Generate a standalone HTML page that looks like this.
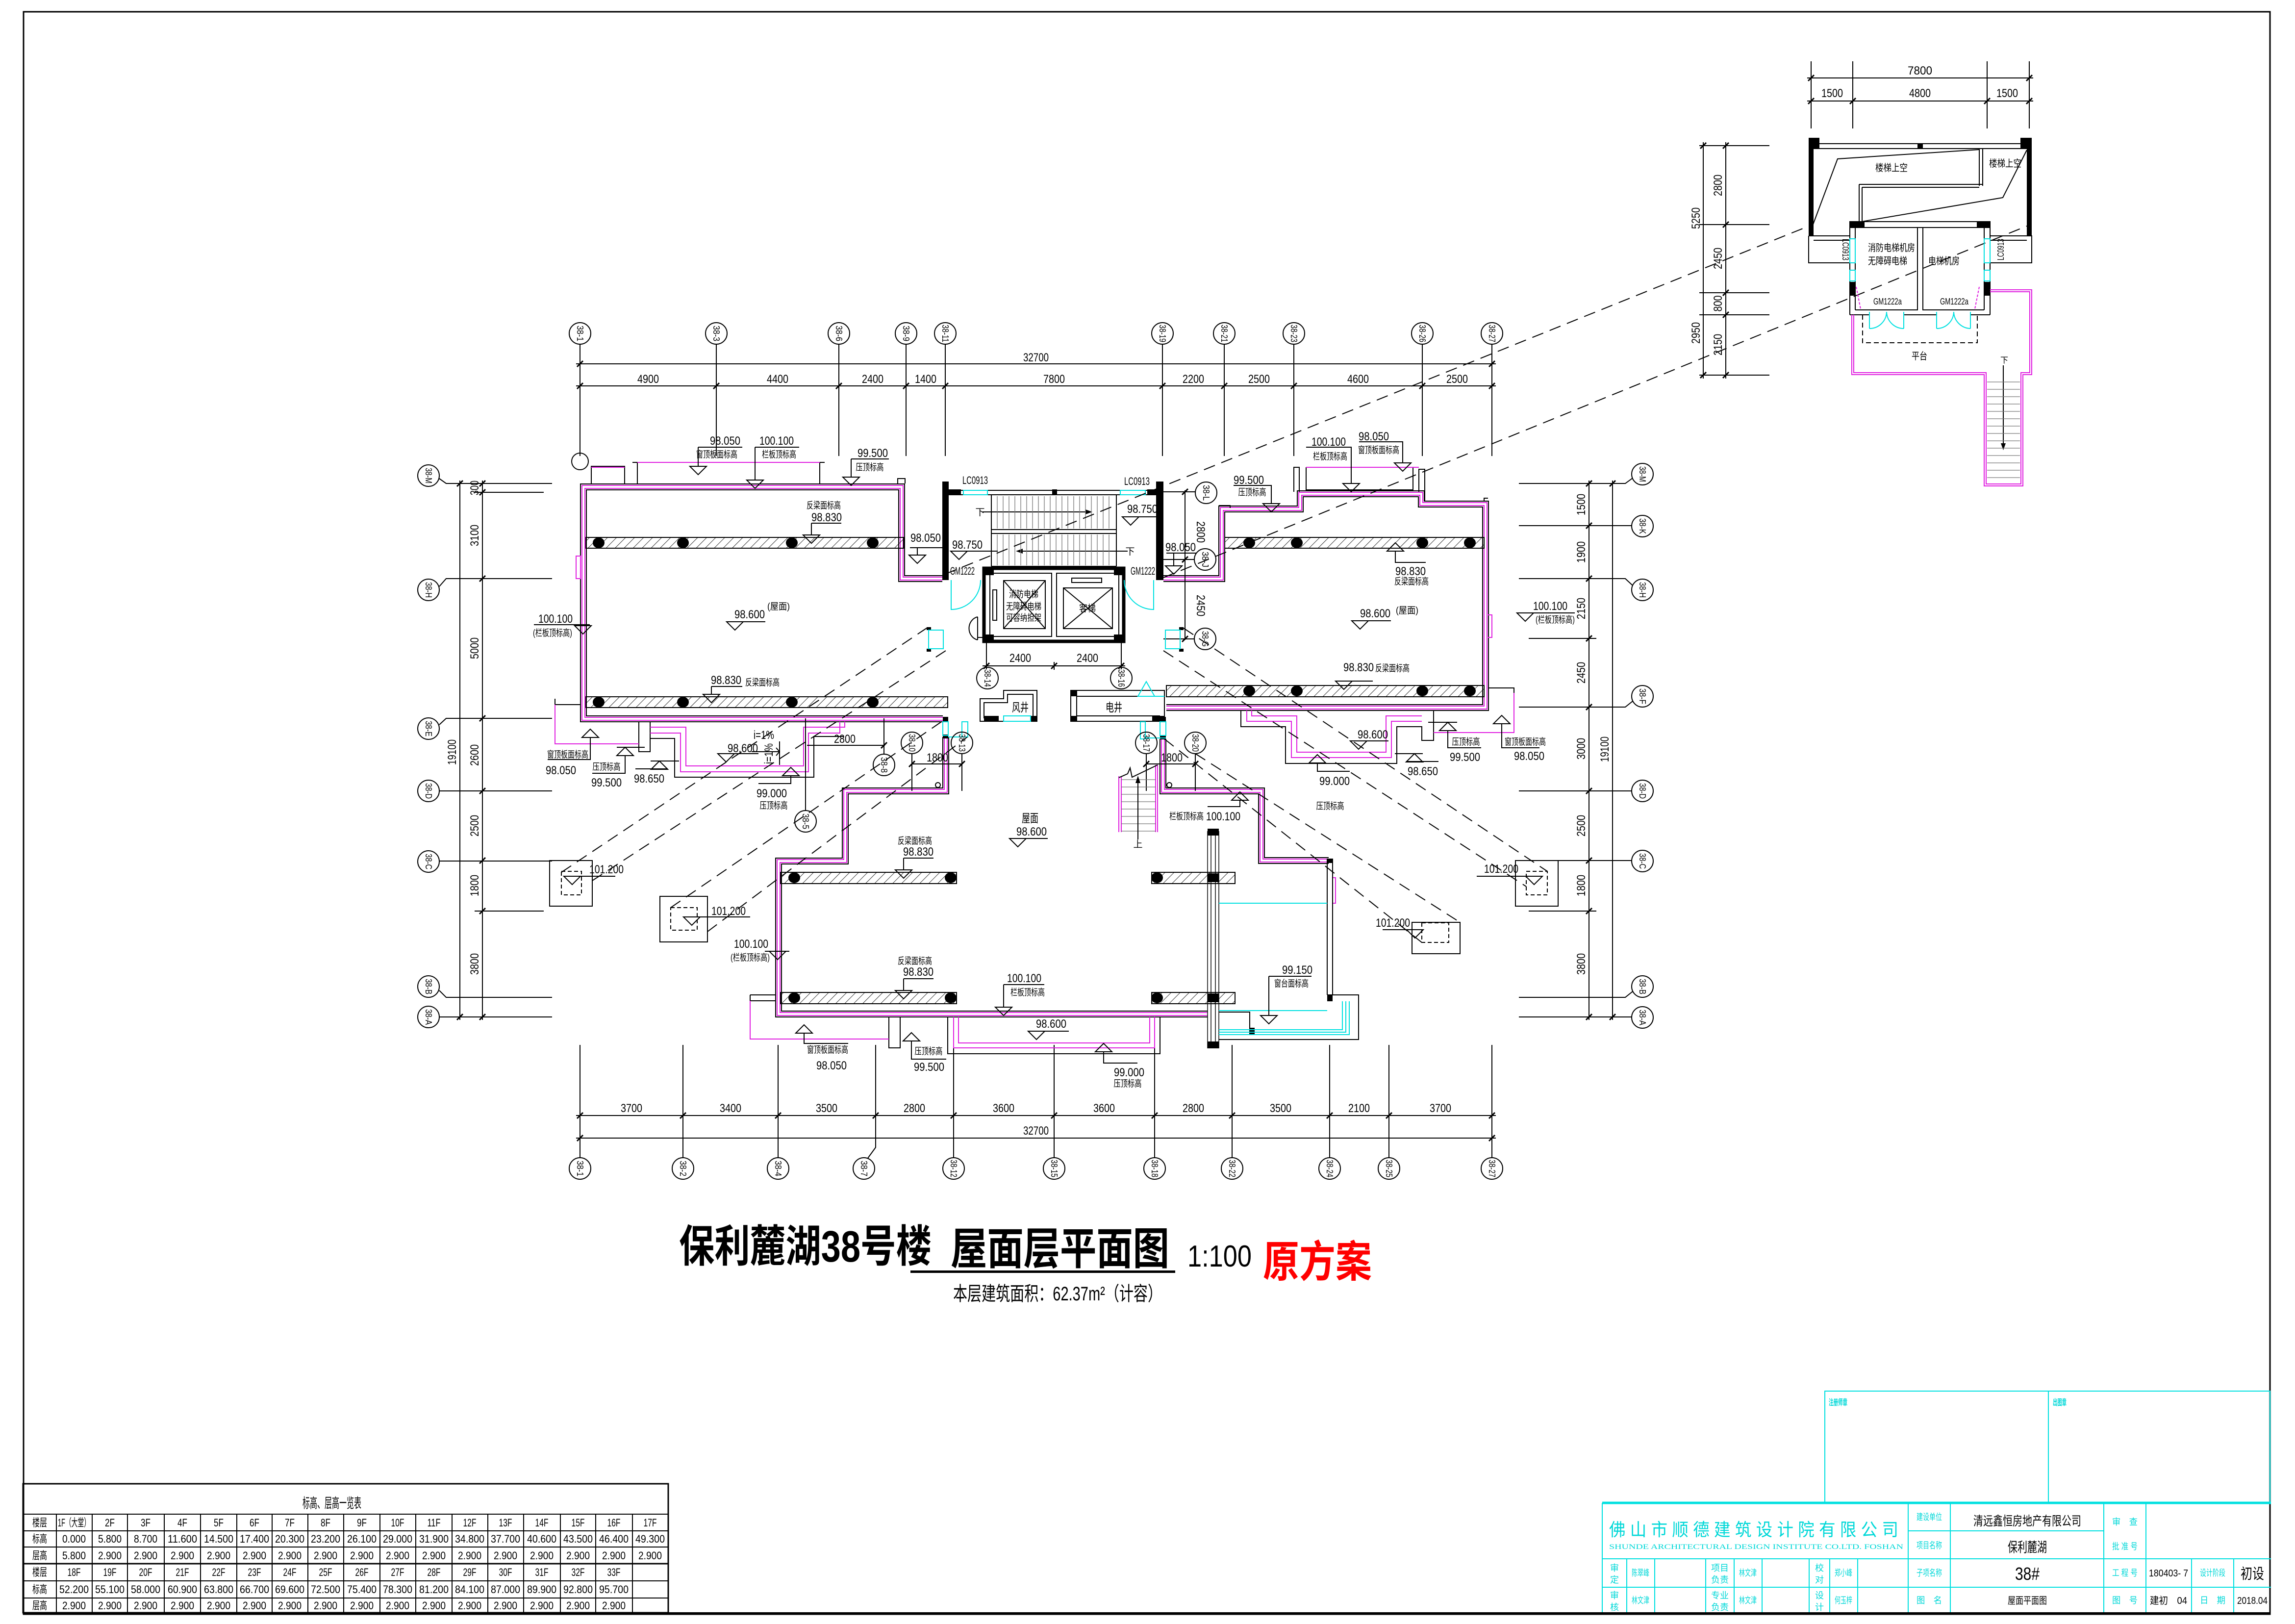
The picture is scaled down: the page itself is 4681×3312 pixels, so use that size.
<!DOCTYPE html>
<html><head><meta charset="utf-8"><style>
html,body{margin:0;padding:0;background:#fff}
svg{display:block}
.k{stroke:#000;stroke-width:2;fill:none}
.k1{stroke:#000;stroke-width:1.4;fill:none}
.g{stroke:#777;stroke-width:1.3;fill:none}
.m{stroke:#e020e0;stroke-width:2;fill:none}
.c{stroke:#00e0e0;stroke-width:2;fill:none}
.d{stroke:#000;stroke-width:2;fill:none;stroke-dasharray:24 14}
.f{fill:#000;stroke:none}
.t{font-family:"Liberation Sans","Noto Sans CJK SC",sans-serif;fill:#000}
.n{font-size:24px}.s{font-size:19px}.a{font-size:18px}.q{font-size:22px}
.cy{fill:#00d8d8}
</style></head><body>
<svg xmlns="http://www.w3.org/2000/svg" width="4681" height="3312" viewBox="0 0 4681 3312">
<defs>
<pattern id="h" width="13" height="13" patternUnits="userSpaceOnUse" patternTransform="rotate(45)"><line x1="0" y1="0" x2="0" y2="13" stroke="#000" stroke-width="1.6"/></pattern>
<path id="w1" d="M1922,1180 H1839 V993 H1190 V1466 H1923"/>
<path id="w2" d="M2373,1180 H2492 V1038 H2652 V1007 H2899 V1028 H3030 V1443 H2379"/>
<path id="w3" d="M1929,1503 V1613 H1724 V1756 H1588 V2068 H2463"/>
<path id="w4" d="M2372,1507 V1613 H2573 V1755 H2710"/>
</defs>
<rect width="4681" height="3312" fill="#fff"/>
<rect x="48" y="24" width="4582" height="3268" fill="none" stroke="#000" stroke-width="3"/>

<g fill="none">
<use href="#w1" stroke="#000" stroke-width="14"/><use href="#w1" stroke="#fff" stroke-width="10"/><use href="#w1" stroke="#e020e0" stroke-width="8"/><use href="#w1" stroke="#fff" stroke-width="4"/>
<use href="#w2" stroke="#000" stroke-width="14"/><use href="#w2" stroke="#fff" stroke-width="10"/><use href="#w2" stroke="#e020e0" stroke-width="8"/><use href="#w2" stroke="#fff" stroke-width="4"/>
<use href="#w3" stroke="#000" stroke-width="14"/><use href="#w3" stroke="#fff" stroke-width="10"/><use href="#w3" stroke="#e020e0" stroke-width="8"/><use href="#w3" stroke="#fff" stroke-width="4"/>
<use href="#w4" stroke="#000" stroke-width="14"/><use href="#w4" stroke="#fff" stroke-width="10"/><use href="#w4" stroke="#e020e0" stroke-width="8"/><use href="#w4" stroke="#fff" stroke-width="4"/>
</g>

<!-- axes top -->
<g class="k">
<path d="M1183,702V930M1461,702V930M1711,702V930M1848,702V930M1928,702V930M2371,702V930M2497,702V930M2639,702V930M2901,702V930M3043,702V930"/>
<path d="M1175,742H3051M1175,787H3051"/>
<path d="M1177,748l12,-12M3037,748l12,-12M1177,793l12,-12M1455,793l12,-12M1705,793l12,-12M1842,793l12,-12M1922,793l12,-12M2365,793l12,-12M2491,793l12,-12M2633,793l12,-12M2895,793l12,-12M3037,793l12,-12" stroke-width="3"/>
<circle cx="1183" cy="680" r="22"/><circle cx="1461" cy="680" r="22"/><circle cx="1711" cy="680" r="22"/><circle cx="1848" cy="680" r="22"/><circle cx="1928" cy="680" r="22"/><circle cx="2371" cy="680" r="22"/><circle cx="2497" cy="680" r="22"/><circle cx="2639" cy="680" r="22"/><circle cx="2901" cy="680" r="22"/><circle cx="3043" cy="680" r="22"/>
</g>
<g class="t a" text-anchor="middle">
<text transform="translate(1183,680) rotate(90)" y="6" textLength="32" lengthAdjust="spacingAndGlyphs">38-1</text>
<text transform="translate(1461,680) rotate(90)" y="6" textLength="32" lengthAdjust="spacingAndGlyphs">38-3</text>
<text transform="translate(1711,680) rotate(90)" y="6" textLength="32" lengthAdjust="spacingAndGlyphs">38-6</text>
<text transform="translate(1848,680) rotate(90)" y="6" textLength="32" lengthAdjust="spacingAndGlyphs">38-9</text>
<text transform="translate(1928,680) rotate(90)" y="6" textLength="36" lengthAdjust="spacingAndGlyphs">38-11</text>
<text transform="translate(2371,680) rotate(90)" y="6" textLength="36" lengthAdjust="spacingAndGlyphs">38-19</text>
<text transform="translate(2497,680) rotate(90)" y="6" textLength="36" lengthAdjust="spacingAndGlyphs">38-21</text>
<text transform="translate(2639,680) rotate(90)" y="6" textLength="36" lengthAdjust="spacingAndGlyphs">38-23</text>
<text transform="translate(2901,680) rotate(90)" y="6" textLength="36" lengthAdjust="spacingAndGlyphs">38-26</text>
<text transform="translate(3043,680) rotate(90)" y="6" textLength="36" lengthAdjust="spacingAndGlyphs">38-27</text>
</g>
<g class="t n" text-anchor="middle">
<text x="2113" y="737" textLength="52" lengthAdjust="spacingAndGlyphs">32700</text>
<text x="1322" y="781" textLength="44" lengthAdjust="spacingAndGlyphs">4900</text>
<text x="1586" y="781" textLength="44" lengthAdjust="spacingAndGlyphs">4400</text>
<text x="1780" y="781" textLength="44" lengthAdjust="spacingAndGlyphs">2400</text>
<text x="1888" y="781" textLength="44" lengthAdjust="spacingAndGlyphs">1400</text>
<text x="2150" y="781" textLength="44" lengthAdjust="spacingAndGlyphs">7800</text>
<text x="2434" y="781" textLength="44" lengthAdjust="spacingAndGlyphs">2200</text>
<text x="2568" y="781" textLength="44" lengthAdjust="spacingAndGlyphs">2500</text>
<text x="2770" y="781" textLength="44" lengthAdjust="spacingAndGlyphs">4600</text>
<text x="2972" y="781" textLength="44" lengthAdjust="spacingAndGlyphs">2500</text>
</g>

<!-- axes bottom -->
<g class="k">
<path d="M1183,2131V2361M1393,2131V2361M1587,2131V2361M1786,2131V2340L1770,2362M1945,2131V2361M2150,2131V2361M2355,2131V2361M2513,2131V2361M2712,2131V2361M2833,2131V2361M3043,2131V2361"/>
<path d="M1175,2275H3051M1175,2321H3051"/>
<path d="M1177,2281l12,-12M1387,2281l12,-12M1581,2281l12,-12M1780,2281l12,-12M1939,2281l12,-12M2144,2281l12,-12M2349,2281l12,-12M2507,2281l12,-12M2706,2281l12,-12M2827,2281l12,-12M3037,2281l12,-12M1177,2327l12,-12M3037,2327l12,-12" stroke-width="3"/>
<circle cx="1183" cy="2383" r="22"/><circle cx="1393" cy="2383" r="22"/><circle cx="1587" cy="2383" r="22"/><circle cx="1762" cy="2383" r="22"/><circle cx="1945" cy="2383" r="22"/><circle cx="2150" cy="2383" r="22"/><circle cx="2355" cy="2383" r="22"/><circle cx="2513" cy="2383" r="22"/><circle cx="2712" cy="2383" r="22"/><circle cx="2833" cy="2383" r="22"/><circle cx="3043" cy="2383" r="22"/>
</g>
<g class="t a" text-anchor="middle">
<text transform="translate(1183,2383) rotate(90)" y="6" textLength="32" lengthAdjust="spacingAndGlyphs">38-1</text>
<text transform="translate(1393,2383) rotate(90)" y="6" textLength="32" lengthAdjust="spacingAndGlyphs">38-2</text>
<text transform="translate(1587,2383) rotate(90)" y="6" textLength="32" lengthAdjust="spacingAndGlyphs">38-4</text>
<text transform="translate(1762,2383) rotate(90)" y="6" textLength="32" lengthAdjust="spacingAndGlyphs">38-7</text>
<text transform="translate(1945,2383) rotate(90)" y="6" textLength="36" lengthAdjust="spacingAndGlyphs">38-12</text>
<text transform="translate(2150,2383) rotate(90)" y="6" textLength="36" lengthAdjust="spacingAndGlyphs">38-15</text>
<text transform="translate(2355,2383) rotate(90)" y="6" textLength="36" lengthAdjust="spacingAndGlyphs">38-18</text>
<text transform="translate(2513,2383) rotate(90)" y="6" textLength="36" lengthAdjust="spacingAndGlyphs">38-22</text>
<text transform="translate(2712,2383) rotate(90)" y="6" textLength="36" lengthAdjust="spacingAndGlyphs">38-24</text>
<text transform="translate(2833,2383) rotate(90)" y="6" textLength="36" lengthAdjust="spacingAndGlyphs">38-25</text>
<text transform="translate(3043,2383) rotate(90)" y="6" textLength="36" lengthAdjust="spacingAndGlyphs">38-27</text>
</g>
<g class="t n" text-anchor="middle">
<text x="1288" y="2268" textLength="44" lengthAdjust="spacingAndGlyphs">3700</text>
<text x="1490" y="2268" textLength="44" lengthAdjust="spacingAndGlyphs">3400</text>
<text x="1686" y="2268" textLength="44" lengthAdjust="spacingAndGlyphs">3500</text>
<text x="1865" y="2268" textLength="44" lengthAdjust="spacingAndGlyphs">2800</text>
<text x="2047" y="2268" textLength="44" lengthAdjust="spacingAndGlyphs">3600</text>
<text x="2252" y="2268" textLength="44" lengthAdjust="spacingAndGlyphs">3600</text>
<text x="2434" y="2268" textLength="44" lengthAdjust="spacingAndGlyphs">2800</text>
<text x="2612" y="2268" textLength="44" lengthAdjust="spacingAndGlyphs">3500</text>
<text x="2772" y="2268" textLength="44" lengthAdjust="spacingAndGlyphs">2100</text>
<text x="2938" y="2268" textLength="44" lengthAdjust="spacingAndGlyphs">3700</text>
<text x="2113" y="2314" textLength="52" lengthAdjust="spacingAndGlyphs">32700</text>
</g>

<!-- axes left -->
<g class="k">
<path d="M896,976L910,986H1126M896,1196L910,1180H1126M896,1478L910,1465H1126M896,1613H1126M896,1756H1126M896,2020L910,2034H1126M896,2074H1126M968,1004H1109M968,1858H1109"/>
<path d="M938,980V2080M984,980V2080"/>
<path d="M932,992l12,-12M932,2080l12,-12M978,992l12,-12M978,1010l12,-12M978,1186l12,-12M978,1471l12,-12M978,1619l12,-12M978,1761l12,-12M978,1864l12,-12M978,2080l12,-12" stroke-width="3"/>
<circle cx="874" cy="970" r="22"/><circle cx="874" cy="1203" r="22"/><circle cx="874" cy="1486" r="22"/><circle cx="874" cy="1613" r="22"/><circle cx="874" cy="1757" r="22"/><circle cx="874" cy="2012" r="22"/><circle cx="874" cy="2074" r="22"/>
</g>
<g class="t a" text-anchor="middle">
<text transform="translate(874,970) rotate(90)" y="6" textLength="32" lengthAdjust="spacingAndGlyphs">38-M</text>
<text transform="translate(874,1203) rotate(90)" y="6" textLength="32" lengthAdjust="spacingAndGlyphs">38-H</text>
<text transform="translate(874,1486) rotate(90)" y="6" textLength="32" lengthAdjust="spacingAndGlyphs">38-E</text>
<text transform="translate(874,1613) rotate(90)" y="6" textLength="32" lengthAdjust="spacingAndGlyphs">38-D</text>
<text transform="translate(874,1757) rotate(90)" y="6" textLength="32" lengthAdjust="spacingAndGlyphs">38-C</text>
<text transform="translate(874,2012) rotate(90)" y="6" textLength="32" lengthAdjust="spacingAndGlyphs">38-B</text>
<text transform="translate(874,2074) rotate(90)" y="6" textLength="32" lengthAdjust="spacingAndGlyphs">38-A</text>
</g>
<g class="t n" text-anchor="middle">
<text transform="translate(976,995) rotate(-90)" textLength="30" lengthAdjust="spacingAndGlyphs">300</text>
<text transform="translate(976,1092) rotate(-90)" textLength="44" lengthAdjust="spacingAndGlyphs">3100</text>
<text transform="translate(976,1322) rotate(-90)" textLength="44" lengthAdjust="spacingAndGlyphs">5000</text>
<text transform="translate(976,1540) rotate(-90)" textLength="44" lengthAdjust="spacingAndGlyphs">2600</text>
<text transform="translate(976,1684) rotate(-90)" textLength="44" lengthAdjust="spacingAndGlyphs">2500</text>
<text transform="translate(976,1806) rotate(-90)" textLength="44" lengthAdjust="spacingAndGlyphs">1800</text>
<text transform="translate(976,1966) rotate(-90)" textLength="44" lengthAdjust="spacingAndGlyphs">3800</text>
<text transform="translate(930,1534) rotate(-90)" textLength="52" lengthAdjust="spacingAndGlyphs">19100</text>
</g>

<!-- axes right -->
<g class="k">
<path d="M3098,986H3315L3330,975M3098,1072H3328M3098,1180H3315L3330,1194M3098,1442H3315L3330,1430M3098,1613H3328M3098,1755H3328M3098,2034H3315L3330,2022M3098,2074H3328M3118,1302H3256M3118,1858H3256"/>
<path d="M3241,980V2080M3289,980V2080"/>
<path d="M3235,992l12,-12M3235,1078l12,-12M3235,1186l12,-12M3235,1308l12,-12M3235,1448l12,-12M3235,1619l12,-12M3235,1761l12,-12M3235,1864l12,-12M3235,2080l12,-12M3283,992l12,-12M3283,2080l12,-12" stroke-width="3"/>
<circle cx="3350" cy="967" r="22"/><circle cx="3350" cy="1073" r="22"/><circle cx="3350" cy="1203" r="22"/><circle cx="3350" cy="1420" r="22"/><circle cx="3350" cy="1613" r="22"/><circle cx="3350" cy="1756" r="22"/><circle cx="3350" cy="2012" r="22"/><circle cx="3350" cy="2075" r="22"/>
</g>
<g class="t a" text-anchor="middle">
<text transform="translate(3350,967) rotate(90)" y="6" textLength="32" lengthAdjust="spacingAndGlyphs">38-M</text>
<text transform="translate(3350,1073) rotate(90)" y="6" textLength="32" lengthAdjust="spacingAndGlyphs">38-K</text>
<text transform="translate(3350,1203) rotate(90)" y="6" textLength="32" lengthAdjust="spacingAndGlyphs">38-H</text>
<text transform="translate(3350,1420) rotate(90)" y="6" textLength="32" lengthAdjust="spacingAndGlyphs">38-F</text>
<text transform="translate(3350,1613) rotate(90)" y="6" textLength="32" lengthAdjust="spacingAndGlyphs">38-D</text>
<text transform="translate(3350,1756) rotate(90)" y="6" textLength="32" lengthAdjust="spacingAndGlyphs">38-C</text>
<text transform="translate(3350,2012) rotate(90)" y="6" textLength="32" lengthAdjust="spacingAndGlyphs">38-B</text>
<text transform="translate(3350,2075) rotate(90)" y="6" textLength="32" lengthAdjust="spacingAndGlyphs">38-A</text>
</g>
<g class="t n" text-anchor="middle">
<text transform="translate(3233,1029) rotate(-90)" textLength="44" lengthAdjust="spacingAndGlyphs">1500</text>
<text transform="translate(3233,1126) rotate(-90)" textLength="44" lengthAdjust="spacingAndGlyphs">1900</text>
<text transform="translate(3233,1241) rotate(-90)" textLength="44" lengthAdjust="spacingAndGlyphs">2150</text>
<text transform="translate(3233,1372) rotate(-90)" textLength="44" lengthAdjust="spacingAndGlyphs">2450</text>
<text transform="translate(3233,1527) rotate(-90)" textLength="44" lengthAdjust="spacingAndGlyphs">3000</text>
<text transform="translate(3233,1684) rotate(-90)" textLength="44" lengthAdjust="spacingAndGlyphs">2500</text>
<text transform="translate(3233,1806) rotate(-90)" textLength="44" lengthAdjust="spacingAndGlyphs">1800</text>
<text transform="translate(3233,1966) rotate(-90)" textLength="44" lengthAdjust="spacingAndGlyphs">3800</text>
<text transform="translate(3281,1528) rotate(-90)" textLength="52" lengthAdjust="spacingAndGlyphs">19100</text>
</g>

<!-- parapets / ledges / gutters -->
<g class="k">
<circle cx="1183" cy="941" r="17"/>
<path d="M1206,986V951H1274V986M1290,943H1300V986M1672,986V943H1682M1831,986V976H1846V986"/>
<path d="M2486,1031H2509V1036M2639,1003V953H2650V1003M2664,953V999H2882V953M2894,1003V957H2906V1022H3027V1016H3035"/>
<path d="M1303,1472V1533H1326V1472M1326,1506H1376V1585H1660V1502H1720M1132,1425V1437H1183"/>
<path d="M2531,1449V1482H2622V1557H2849V1482H2900V1510H2924V1449M3035,1403H3088V1413"/>
<path d="M1530,2029H1581M1530,2041H1581M1530,2029V2041M1813,2074V2137H1836V2074M1933,2074V2149H2366V2074"/>
</g>
<g class="m">
<path d="M1206,953H1274M1300,943H1672M1175,1134H1184V1180H1175Z"/>
<path d="M2664,953H2894M3035,1254H3043V1300H3035"/>
<path d="M1326,1483H1399V1562H1639V1483H1723V1472M1326,1495H1388V1574H1649V1495H1713V1472M1132,1437V1517H1303"/>
<path d="M2543,1449V1471H2634V1545H2838V1471H2900M2553,1449V1460H2645V1534H2827V1460H2900M3088,1413V1494H2924"/>
<path d="M1530,2041V2119H1813M1945,2074V2137H2355V2074M1955,2074V2127H2345V2074"/>
<path d="M2718,1790H2724V1842H2718"/>
</g>

<!-- beams -->
<g stroke="#000" stroke-width="2" fill="url(#h)">
<rect x="1195" y="1096" width="648" height="22"/><rect x="1195" y="1421" width="738" height="22"/>
<rect x="2498" y="1096" width="529" height="22"/><rect x="2379" y="1398" width="648" height="23"/>
<rect x="1592" y="1779" width="359" height="23"/><rect x="1592" y="2024" width="359" height="23"/>
<rect x="2349" y="1779" width="170" height="23"/><rect x="2349" y="2024" width="170" height="23"/>
</g>
<g class="f">
<ellipse cx="1221" cy="1107" rx="12" ry="11"/><ellipse cx="1393" cy="1107" rx="12" ry="11"/><ellipse cx="1615" cy="1107" rx="12" ry="11"/><ellipse cx="1780" cy="1107" rx="12" ry="11"/>
<ellipse cx="1221" cy="1432" rx="12" ry="11"/><ellipse cx="1393" cy="1432" rx="12" ry="11"/><ellipse cx="1615" cy="1432" rx="12" ry="11"/><ellipse cx="1780" cy="1432" rx="12" ry="11"/>
<ellipse cx="2548" cy="1107" rx="12" ry="11"/><ellipse cx="2645" cy="1107" rx="12" ry="11"/><ellipse cx="2901" cy="1107" rx="12" ry="11"/><ellipse cx="2998" cy="1107" rx="12" ry="11"/>
<ellipse cx="2548" cy="1409" rx="12" ry="11"/><ellipse cx="2645" cy="1409" rx="12" ry="11"/><ellipse cx="2901" cy="1409" rx="12" ry="11"/><ellipse cx="2998" cy="1409" rx="12" ry="11"/>
<ellipse cx="1620" cy="1790" rx="12" ry="11"/><ellipse cx="1939" cy="1790" rx="12" ry="11"/><ellipse cx="1620" cy="2035" rx="12" ry="11"/><ellipse cx="1939" cy="2035" rx="12" ry="11"/>
<ellipse cx="2360" cy="1790" rx="12" ry="11"/><ellipse cx="2360" cy="2035" rx="12" ry="11"/>
</g>

<!-- core -->
<g class="f">
<rect x="1922" y="982" width="13" height="201"/><rect x="2358" y="982" width="15" height="201"/>
<rect x="1935" y="998" width="25" height="12"/><rect x="2340" y="998" width="18" height="12"/><rect x="2146" y="998" width="10" height="12"/>
<rect x="2007" y="1159" width="20" height="14"/><rect x="2272" y="1159" width="20" height="14"/><rect x="2007" y="1294" width="20" height="14"/><rect x="2272" y="1294" width="20" height="14"/>
<rect x="2007" y="1460" width="30" height="11"/><rect x="2102" y="1460" width="13" height="11"/>
<rect x="2184" y="1408" width="12" height="12"/><rect x="2184" y="1460" width="12" height="11"/><rect x="2350" y="1460" width="25" height="11"/>
<rect x="1923" y="1462" width="11" height="10"/><rect x="1923" y="1498" width="11" height="8"/><rect x="2366" y="1462" width="12" height="10"/><rect x="2366" y="1500" width="12" height="8"/>
<rect x="1890" y="1279" width="9" height="6"/><rect x="1890" y="1323" width="9" height="6"/><rect x="2405" y="1279" width="9" height="6"/><rect x="2405" y="1323" width="9" height="6"/>
</g>
<g class="k">
<path d="M1960,1000H2285M2336,1000H2340M1960,1009H2358M2022,1010V1155M2277,1010V1155M2022,1080H2277M2022,1088H2277M2022,1155H2277"/>
<rect x="2007" y="1159" width="285" height="149" stroke-width="7"/>
<rect x="2019" y="1169" width="126" height="129"/><rect x="2155" y="1169" width="127" height="129"/>
<rect x="2047" y="1184" width="85" height="98"/><path d="M2047,1184L2132,1282M2132,1184L2047,1282"/>
<rect x="2169" y="1199" width="100" height="83"/><path d="M2169,1199L2269,1282M2269,1199L2169,1282"/>
<rect x="2186" y="1179" width="61" height="9"/><rect x="2025" y="1203" width="8" height="62"/>
<path d="M1994,1258A22,24 0 0 0 1994,1305M1994,1258V1305M1994,1300H2007"/>
<path d="M2012,1308V1365M2287,1308V1365M2004,1358H2295M2150,1350V1366"/>
<path d="M2006,1364l12,-12M2144,1364l12,-12M2281,1364l12,-12" stroke-width="3"/>
<path d="M1999,1471V1425H2047V1408H2115V1471ZM2007,1465V1433H2055V1416H2107V1465"/>
<path d="M2184,1408H2375V1471H2184ZM2196,1420H2366M2196,1460H2366M2196,1408V1471"/>
<path d="M2004,1044H2220M2300,1124H2080"/>
<path d="M2373,1003H2438M2373,1141H2436M2373,1303H2436M2417,1000V1305"/>
<path d="M2411,1009l12,-12M2411,1147l12,-12M2411,1309l12,-12" stroke-width="3"/>
<circle cx="2460" cy="1005" r="22"/><circle cx="2458" cy="1141" r="22"/><circle cx="2458" cy="1303" r="22"/>
<circle cx="2014" cy="1383" r="22"/><circle cx="2287" cy="1383" r="22"/>
</g>
<polygon points="2228,1044 2214,1039 2214,1049" class="f"/><polygon points="2072,1124 2086,1119 2086,1129" class="f"/>
<g class="g"><path d="M2034,1012V1078M2046,1012V1078M2058,1012V1078M2070,1012V1078M2082,1012V1078M2094,1012V1078M2106,1012V1078M2118,1012V1078M2130,1012V1078M2142,1012V1078M2154,1012V1078M2166,1012V1078M2178,1012V1078M2190,1012V1078M2202,1012V1078M2214,1012V1078M2226,1012V1078M2238,1012V1078M2250,1012V1078M2262,1012V1078M2034,1090V1153M2046,1090V1153M2058,1090V1153M2070,1090V1153M2082,1090V1153M2094,1090V1153M2106,1090V1153M2118,1090V1153M2130,1090V1153M2142,1090V1153M2154,1090V1153M2166,1090V1153M2178,1090V1153M2190,1090V1153M2202,1090V1153M2214,1090V1153M2226,1090V1153M2238,1090V1153M2250,1090V1153M2262,1090V1153"/></g>
<g class="c">
<rect x="1965" y="1000" width="49" height="9"/><rect x="2285" y="1000" width="51" height="9"/>
<path d="M1940,1183V1243A60,60 0 0 0 2000,1183M2353,1183V1243A60,60 0 0 1 2293,1183"/>
<rect x="1894" y="1285" width="30" height="38"/><rect x="2377" y="1285" width="30" height="38"/>
<rect x="2047" y="1460" width="55" height="11"/>
<path d="M2321,1420L2338,1390L2355,1420ZM2321,1420H2375"/>
<rect x="1923" y="1472" width="11" height="28"/><rect x="1962" y="1472" width="12" height="31"/>
<rect x="2326" y="1472" width="10" height="35"/><rect x="2366" y="1472" width="12" height="28"/>
<path d="M1934,1503H1974M2336,1505H2378"/>
</g>

<!-- lower region details -->
<g class="k">
<path d="M1860,1537V1613M1962,1537V1613M2338,1537V1613M2438,1537V1613M1643,1653V1465M1803,1538V1465M1646,1520H1805M1860,1558H1962M2338,1558H2438"/>
<path d="M1854,1564l12,-12M1956,1564l12,-12M2332,1564l12,-12M2432,1564l12,-12M1797,1526l12,-12" stroke-width="3"/>
<circle cx="1860" cy="1515" r="22"/><circle cx="1962" cy="1515" r="22"/><circle cx="1803" cy="1560" r="22"/><circle cx="1643" cy="1675" r="22"/><circle cx="2338" cy="1515" r="22"/><circle cx="2438" cy="1515" r="22"/>
<circle cx="1913" cy="1601" r="5"/><circle cx="2385" cy="1601" r="5"/>
<path d="M2463,1695V2138M2470,1695V2138M2479,1695V2138M2486,1695V2138" stroke-width="1.5"/>
<path d="M2707,1751V2029M2718,1751V2029M2707,2029H2771V2120H2486M2486,2064H2549V2109"/>
<rect x="1121" y="1755" width="87" height="93"/><rect x="1346" y="1828" width="97" height="93"/><rect x="3091" y="1755" width="87" height="93"/><rect x="2880" y="1881" width="98" height="64"/>
</g>
<g class="k" stroke-dasharray="8 5"><rect x="1145" y="1777" width="41" height="48"/><rect x="1368" y="1851" width="54" height="46"/><rect x="3113" y="1777" width="43" height="48"/><rect x="2900" y="1882" width="55" height="40"/></g>
<g class="f">
<rect x="2463" y="1690" width="23" height="14"/><rect x="2463" y="2124" width="23" height="14"/><rect x="2463" y="1781" width="23" height="18"/><rect x="2463" y="2026" width="23" height="18"/>
<rect x="2707" y="1751" width="11" height="9"/><rect x="2707" y="2029" width="11" height="13"/><rect x="2549" y="2096" width="10" height="13"/>
</g>
<g class="c"><path d="M2486,1842H2707M2486,2061H2707M2738,2042V2100H2486M2745,2042V2105H2486M2752,2042V2110H2486"/></g>
<g class="m"><path d="M2282,1583V1697M2287,1583V1697M2357,1560V1697M2361,1560V1697"/></g>
<g class="g"><path d="M2287,1590H2357M2287,1605H2357M2287,1620H2357M2287,1635H2357M2287,1650H2357M2287,1665H2357M2287,1680H2357M2287,1695H2357"/></g>
<g class="k"><path d="M2282,1586L2300,1578L2305,1566L2309,1585L2361,1560M2321,1712V1592"/></g>
<polygon points="2321,1582 2316,1597 2326,1597" class="f"/>

<!-- dashed lines -->
<g class="d">
<path d="M1927,1171L3687,462M2373,1178L4134,461"/>
<path d="M1145,1779L1890,1281M1208,1796L1929,1327M1368,1851L1923,1470M1443,1900L1973,1503"/>
<path d="M2373,1327L3113,1808M2414,1281L3156,1777M2375,1507L2900,1922M2438,1537L2978,1881"/>
</g>

<!-- elevation markers -->
<g class="k">
<path d="M1424,912V951M1424,912H1514M1540,912V979M1540,912H1630M1736,936V973M1736,936H1813M1655,1067V1091M1655,1067H1716M1856,1117H1922M1871,1117V1132M1940,1124H2035M1482,1268H1561M1089,1274H1203M1451,1400V1416M1451,1400H1514M1204,1504V1549H1117M1258,1524H1315M1275,1541V1577H1208M1327,1552H1385M1296,1568H1362M1469,1537H1547M1613,1582V1598H1547"/>
<path d="M2290,1054H2365M2379,1128H2440M2394,1128V1154M2516,990H2593V1027M2664,912H2756V986M2772,901H2861V944M2846,1124V1147H2908M2758,1266H2837M3095,1250H3212M2741,1389H2800M2753,1511H2832M2913,1473H2972M2953,1490V1525H3021M3063,1476V1525H3140M2845,1537H2902M2868,1553H2934M2687,1556V1573H2753"/>
<path d="M1843,1750V1774M1843,1750H1904M2059,1710H2137M2463,1645H2529V1632M1560,1940H1610M1843,1996V2020M1843,1996H1904M2047,2008V2054M2047,2008H2130M2098,2103H2180M2588,1991V2071M2588,1991H2675M1640,2107V2128H1730M1859,2123V2160H1930M2251,2145V2168H2320"/>
<path d="M1150,1787H1255M1394,1870H1530M3012,1787H3112M2820,1896H2903"/>
<path d="M1533,1533H1590M1583,1525L1590,1533L1583,1541M1590,1512V1560"/>
<g>
<polygon points="1407,951 1441,951 1424,968"/><polygon points="1523,979 1557,979 1540,996"/><polygon points="1719,973 1753,973 1736,990"/><polygon points="1638,1091 1672,1091 1655,1108"/><polygon points="1854,1132 1888,1132 1871,1149"/><polygon points="1939,1124 1973,1124 1956,1141"/><polygon points="1482,1268 1516,1268 1499,1285"/><polygon points="1172,1276 1206,1276 1189,1293"/><polygon points="1434,1416 1468,1416 1451,1433"/><polygon points="1464,1537 1498,1537 1481,1554"/>
<polygon points="2289,1054 2323,1054 2306,1071"/><polygon points="2377,1154 2411,1154 2394,1171"/><polygon points="2576,1027 2610,1027 2593,1044"/><polygon points="2739,986 2773,986 2756,1003"/><polygon points="2844,944 2878,944 2861,961"/><polygon points="2757,1266 2791,1266 2774,1283"/><polygon points="3094,1250 3128,1250 3111,1267"/><polygon points="2724,1389 2758,1389 2741,1406"/><polygon points="2754,1511 2788,1511 2771,1528"/>
<polygon points="1826,1774 1860,1774 1843,1791"/><polygon points="2059,1710 2093,1710 2076,1727"/><polygon points="1569,1940 1603,1940 1586,1957"/><polygon points="1826,2020 1860,2020 1843,2037"/><polygon points="2030,2054 2064,2054 2047,2071"/><polygon points="2097,2103 2131,2103 2114,2120"/><polygon points="2571,2071 2605,2071 2588,2088"/>
<polygon points="1150,1787 1184,1787 1167,1804"/><polygon points="1394,1870 1428,1870 1411,1887"/><polygon points="3112,1787 3146,1787 3129,1804"/><polygon points="2869,1896 2903,1896 2886,1913"/>
<polygon points="2846,1107 2829,1124 2863,1124"/><polygon points="1204,1487 1187,1504 1221,1504"/><polygon points="1275,1524 1258,1541 1292,1541"/><polygon points="1345,1552 1328,1569 1362,1569"/><polygon points="1613,1565 1596,1582 1630,1582"/><polygon points="2953,1473 2936,1490 2970,1490"/><polygon points="3063,1459 3046,1476 3080,1476"/><polygon points="2885,1537 2868,1554 2902,1554"/><polygon points="2687,1539 2670,1556 2704,1556"/><polygon points="2529,1615 2512,1632 2546,1632"/><polygon points="1640,2090 1623,2107 1657,2107"/><polygon points="1859,2106 1842,2123 1876,2123"/><polygon points="2251,2128 2234,2145 2268,2145"/>
</g>
</g>

<!-- plan texts -->
<g class="t" text-anchor="middle">
<g class="n">
<text x="1479" y="907" textLength="62" lengthAdjust="spacingAndGlyphs">98.050</text>
<text x="1584" y="907" textLength="70" lengthAdjust="spacingAndGlyphs">100.100</text>
<text x="1780" y="932" textLength="62" lengthAdjust="spacingAndGlyphs">99.500</text>
<text x="1686" y="1063" textLength="62" lengthAdjust="spacingAndGlyphs">98.830</text>
<text x="1888" y="1105" textLength="62" lengthAdjust="spacingAndGlyphs">98.050</text>
<text x="1973" y="1119" textLength="62" lengthAdjust="spacingAndGlyphs">98.750</text>
<text x="1529" y="1261" textLength="62" lengthAdjust="spacingAndGlyphs">98.600</text>
<text x="1133" y="1270" textLength="70" lengthAdjust="spacingAndGlyphs">100.100</text>
<text x="1481" y="1395" textLength="62" lengthAdjust="spacingAndGlyphs">98.830</text>
<text x="1144" y="1579" textLength="62" lengthAdjust="spacingAndGlyphs">98.050</text>
<text x="1237" y="1604" textLength="62" lengthAdjust="spacingAndGlyphs">99.500</text>
<text x="1324" y="1596" textLength="62" lengthAdjust="spacingAndGlyphs">98.650</text>
<text x="1558" y="1507" textLength="42" lengthAdjust="spacingAndGlyphs">i=1%</text>
<text x="1515" y="1534" textLength="62" lengthAdjust="spacingAndGlyphs">98.600</text>
<text transform="translate(1576,1537) rotate(-90)" textLength="42" lengthAdjust="spacingAndGlyphs">i=1%</text>
<text x="1574" y="1626" textLength="62" lengthAdjust="spacingAndGlyphs">99.000</text>
<text x="1723" y="1515" textLength="44" lengthAdjust="spacingAndGlyphs">2800</text>
<text x="2330" y="1046" textLength="62" lengthAdjust="spacingAndGlyphs">98.750</text>
<text x="2408" y="1124" textLength="62" lengthAdjust="spacingAndGlyphs">98.050</text>
<text x="2547" y="987" textLength="62" lengthAdjust="spacingAndGlyphs">99.500</text>
<text x="2710" y="909" textLength="70" lengthAdjust="spacingAndGlyphs">100.100</text>
<text x="2802" y="898" textLength="62" lengthAdjust="spacingAndGlyphs">98.050</text>
<text x="2877" y="1173" textLength="62" lengthAdjust="spacingAndGlyphs">98.830</text>
<text x="2805" y="1259" textLength="62" lengthAdjust="spacingAndGlyphs">98.600</text>
<text x="3162" y="1244" textLength="70" lengthAdjust="spacingAndGlyphs">100.100</text>
<text x="2771" y="1369" textLength="62" lengthAdjust="spacingAndGlyphs">98.830</text>
<text x="2800" y="1506" textLength="62" lengthAdjust="spacingAndGlyphs">98.600</text>
<text x="2988" y="1552" textLength="62" lengthAdjust="spacingAndGlyphs">99.500</text>
<text x="3119" y="1550" textLength="62" lengthAdjust="spacingAndGlyphs">98.050</text>
<text x="2902" y="1581" textLength="62" lengthAdjust="spacingAndGlyphs">98.650</text>
<text x="2722" y="1601" textLength="62" lengthAdjust="spacingAndGlyphs">99.000</text>
<text x="2081" y="1350" textLength="44" lengthAdjust="spacingAndGlyphs">2400</text>
<text x="2218" y="1350" textLength="44" lengthAdjust="spacingAndGlyphs">2400</text>
<text x="1912" y="1553" textLength="44" lengthAdjust="spacingAndGlyphs">1800</text>
<text x="2390" y="1553" textLength="44" lengthAdjust="spacingAndGlyphs">1800</text>
<text transform="translate(2441,1085) rotate(90)" textLength="44" lengthAdjust="spacingAndGlyphs">2800</text>
<text transform="translate(2441,1235) rotate(90)" textLength="44" lengthAdjust="spacingAndGlyphs">2450</text>
<text x="1873" y="1745" textLength="62" lengthAdjust="spacingAndGlyphs">98.830</text>
<text x="2104" y="1704" textLength="62" lengthAdjust="spacingAndGlyphs">98.600</text>
<text x="2495" y="1673" textLength="70" lengthAdjust="spacingAndGlyphs">100.100</text>
<text x="1237" y="1781" textLength="70" lengthAdjust="spacingAndGlyphs">101.200</text>
<text x="1486" y="1866" textLength="70" lengthAdjust="spacingAndGlyphs">101.200</text>
<text x="3062" y="1780" textLength="70" lengthAdjust="spacingAndGlyphs">101.200</text>
<text x="2841" y="1890" textLength="70" lengthAdjust="spacingAndGlyphs">101.200</text>
<text x="1532" y="1933" textLength="70" lengthAdjust="spacingAndGlyphs">100.100</text>
<text x="1873" y="1990" textLength="62" lengthAdjust="spacingAndGlyphs">98.830</text>
<text x="2089" y="2003" textLength="70" lengthAdjust="spacingAndGlyphs">100.100</text>
<text x="2646" y="1986" textLength="62" lengthAdjust="spacingAndGlyphs">99.150</text>
<text x="1696" y="2181" textLength="62" lengthAdjust="spacingAndGlyphs">98.050</text>
<text x="1895" y="2184" textLength="62" lengthAdjust="spacingAndGlyphs">99.500</text>
<text x="2144" y="2096" textLength="62" lengthAdjust="spacingAndGlyphs">98.600</text>
<text x="2303" y="2195" textLength="62" lengthAdjust="spacingAndGlyphs">99.000</text>
<text x="2081" y="1451" textLength="34" lengthAdjust="spacingAndGlyphs">风井</text>
<text x="2272" y="1451" textLength="34" lengthAdjust="spacingAndGlyphs">电井</text>
<text x="2101" y="1677" textLength="34" lengthAdjust="spacingAndGlyphs">屋面</text>
</g>
<g class="s">
<text x="1462" y="933" textLength="84" lengthAdjust="spacingAndGlyphs">窗顶板面标高</text>
<text x="1589" y="933" textLength="70" lengthAdjust="spacingAndGlyphs">栏板顶标高</text>
<text x="1774" y="959" textLength="57" lengthAdjust="spacingAndGlyphs">压顶标高</text>
<text x="1680" y="1037" textLength="70" lengthAdjust="spacingAndGlyphs">反梁面标高</text>
<text x="1588" y="1243" textLength="46" lengthAdjust="spacingAndGlyphs">(屋面)</text>
<text x="1127" y="1297" textLength="80" lengthAdjust="spacingAndGlyphs">(栏板顶标高)</text>
<text x="1555" y="1398" textLength="70" lengthAdjust="spacingAndGlyphs">反梁面标高</text>
<text x="1158" y="1545" textLength="84" lengthAdjust="spacingAndGlyphs">窗顶板面标高</text>
<text x="1237" y="1570" textLength="57" lengthAdjust="spacingAndGlyphs">压顶标高</text>
<text x="1578" y="1649" textLength="57" lengthAdjust="spacingAndGlyphs">压顶标高</text>
<text x="2554" y="1010" textLength="57" lengthAdjust="spacingAndGlyphs">压顶标高</text>
<text x="2713" y="937" textLength="70" lengthAdjust="spacingAndGlyphs">栏板顶标高</text>
<text x="2812" y="924" textLength="84" lengthAdjust="spacingAndGlyphs">窗顶板面标高</text>
<text x="2879" y="1192" textLength="70" lengthAdjust="spacingAndGlyphs">反梁面标高</text>
<text x="2870" y="1251" textLength="46" lengthAdjust="spacingAndGlyphs">(屋面)</text>
<text x="3172" y="1270" textLength="80" lengthAdjust="spacingAndGlyphs">(栏板顶标高)</text>
<text x="2840" y="1369" textLength="70" lengthAdjust="spacingAndGlyphs">反梁面标高</text>
<text x="2990" y="1519" textLength="57" lengthAdjust="spacingAndGlyphs">压顶标高</text>
<text x="3111" y="1519" textLength="84" lengthAdjust="spacingAndGlyphs">窗顶板面标高</text>
<text x="2713" y="1650" textLength="57" lengthAdjust="spacingAndGlyphs">压顶标高</text>
<text x="1866" y="1721" textLength="70" lengthAdjust="spacingAndGlyphs">反梁面标高</text>
<text x="2420" y="1671" textLength="70" lengthAdjust="spacingAndGlyphs">栏板顶标高</text>
<text x="1530" y="1959" textLength="80" lengthAdjust="spacingAndGlyphs">(栏板顶标高)</text>
<text x="1866" y="1966" textLength="70" lengthAdjust="spacingAndGlyphs">反梁面标高</text>
<text x="2096" y="2030" textLength="70" lengthAdjust="spacingAndGlyphs">栏板顶标高</text>
<text x="2634" y="2012" textLength="70" lengthAdjust="spacingAndGlyphs">窗台面标高</text>
<text x="1688" y="2147" textLength="84" lengthAdjust="spacingAndGlyphs">窗顶板面标高</text>
<text x="1894" y="2150" textLength="57" lengthAdjust="spacingAndGlyphs">压顶标高</text>
<text x="2300" y="2216" textLength="57" lengthAdjust="spacingAndGlyphs">压顶标高</text>
<text x="2088" y="1218" textLength="60" lengthAdjust="spacingAndGlyphs">消防电梯</text>
<text x="2088" y="1243" textLength="72" lengthAdjust="spacingAndGlyphs">无障碍电梯</text>
<text x="2088" y="1266" textLength="72" lengthAdjust="spacingAndGlyphs">可容纳担架</text>
<text x="2218" y="1247" textLength="34" lengthAdjust="spacingAndGlyphs">客梯</text>
<text x="1999" y="1051">下</text><text x="2305" y="1131">下</text><text x="2321" y="1728">上</text>
</g>
<g class="q">
<text x="1989" y="987" textLength="52" lengthAdjust="spacingAndGlyphs">LC0913</text>
<text x="2319" y="989" textLength="52" lengthAdjust="spacingAndGlyphs">LC0913</text>
<text x="1963" y="1172" textLength="50" lengthAdjust="spacingAndGlyphs">GM1222</text>
<text x="2331" y="1172" textLength="50" lengthAdjust="spacingAndGlyphs">GM1222</text>
</g>
<g class="a">
<text transform="translate(2460,1005) rotate(90)" y="6" textLength="32" lengthAdjust="spacingAndGlyphs">38-L</text>
<text transform="translate(2458,1141) rotate(90)" y="6" textLength="32" lengthAdjust="spacingAndGlyphs">38-J</text>
<text transform="translate(2458,1303) rotate(90)" y="6" textLength="32" lengthAdjust="spacingAndGlyphs">38-G</text>
<text transform="translate(2014,1383) rotate(90)" y="6" textLength="36" lengthAdjust="spacingAndGlyphs">38-14</text>
<text transform="translate(2287,1383) rotate(90)" y="6" textLength="36" lengthAdjust="spacingAndGlyphs">38-16</text>
<text transform="translate(1860,1515) rotate(90)" y="6" textLength="36" lengthAdjust="spacingAndGlyphs">38-10</text>
<text transform="translate(1962,1515) rotate(90)" y="6" textLength="36" lengthAdjust="spacingAndGlyphs">38-13</text>
<text transform="translate(1803,1560) rotate(90)" y="6" textLength="32" lengthAdjust="spacingAndGlyphs">38-8</text>
<text transform="translate(1643,1675) rotate(90)" y="6" textLength="32" lengthAdjust="spacingAndGlyphs">38-5</text>
<text transform="translate(2338,1515) rotate(90)" y="6" textLength="36" lengthAdjust="spacingAndGlyphs">38-17</text>
<text transform="translate(2438,1515) rotate(90)" y="6" textLength="36" lengthAdjust="spacingAndGlyphs">38-20</text>
</g>
</g>

<!-- inset top-right -->
<g class="k">
<path d="M3694,125V262M3779,125V262M4053,125V262M4139,125V262M3686,159H4147M3686,206H4147"/>
<path d="M3688,165l12,-12M4133,165l12,-12M3688,212l12,-12M3773,212l12,-12M4047,212l12,-12M4133,212l12,-12" stroke-width="3"/>
<path d="M3699,293H4134M3699,303H4134"/>
<path d="M4037,303V379M4044,303V379M3792,376H4044M3798,382H4037M3792,376V455M3798,382V455"/>
<path d="M3690,479L3748,324L4037,305M3797,452L4085,403L4134,306"/>
<rect x="3773" y="452" width="286" height="12"/>
<path d="M3773,464V642M3784,464V632M4047,464V632M4059,464V642M3911,464V633M3922,464V633M3784,632H3911M3922,632H4047M3773,642H3813M3883,642H3950M4019,642H4059"/>
<path d="M3689,481V536H3773M3699,490H3773M3689,481H3773M4059,481H4144V536H4059M4059,490H4134"/>
<path d="M3474,290V772M3520,290V772M3466,297H3609M3466,458H3609M3466,597H3609M3466,642H3609M3466,765H3609"/>
<path d="M3468,303l12,-12M3468,771l12,-12M3514,303l12,-12M3514,464l12,-12M3514,603l12,-12M3514,648l12,-12M3514,771l12,-12" stroke-width="3"/>
<path d="M4086,745V905"/>
</g>
<g class="f">
<rect x="3689" y="281" width="10" height="200"/><rect x="4134" y="281" width="10" height="200"/>
<rect x="3689" y="281" width="22" height="22"/><rect x="4121" y="281" width="22" height="22"/><rect x="3911" y="293" width="11" height="10"/>
<rect x="3773" y="452" width="30" height="12"/><rect x="4032" y="452" width="27" height="12"/>
<rect x="3773" y="575" width="11" height="28"/><rect x="4047" y="575" width="12" height="28"/>
<polygon points="4086,918 4081,904 4091,904"/>
</g>
<g class="c">
<rect x="3773" y="487" width="11" height="49"/><rect x="4047" y="487" width="12" height="49"/>
<rect x="3773" y="551" width="11" height="22"/><rect x="4047" y="551" width="12" height="22"/>
<path d="M3813,636V670M3883,636V670M3813,670A35,35 0 0 0 3848,636M3883,670A35,35 0 0 1 3848,636M3950,636V670M4019,636V670M3950,670A35,35 0 0 0 3985,636M4019,670A35,35 0 0 1 3985,636"/>
</g>
<g class="k" stroke-dasharray="10 6"><path d="M3799,642V699H4033V642"/></g>
<g class="m">
<path d="M3777,642V764H4047V991H4126V764H4144V591H4059M3781,642V760H4051V987H4122V760H4140V595H4059"/>
<path d="M3786,585L3795,630M4037,585L4028,630" stroke-dasharray="5 3"/>
</g>
<g class="g"><path d="M4053,779H4120M4053,794H4120M4053,809H4120M4053,824H4120M4053,839H4120M4053,854H4120M4053,869H4120M4053,884H4120M4053,899H4120M4053,914H4120M4053,929H4120M4053,944H4120M4053,959H4120M4053,974H4120"/></g>
<g class="t" text-anchor="middle">
<g class="n">
<text x="3916" y="152" textLength="50" lengthAdjust="spacingAndGlyphs">7800</text>
<text x="3737" y="198" textLength="44" lengthAdjust="spacingAndGlyphs">1500</text>
<text x="3916" y="198" textLength="44" lengthAdjust="spacingAndGlyphs">4800</text>
<text x="4094" y="198" textLength="44" lengthAdjust="spacingAndGlyphs">1500</text>
<text transform="translate(3467,445) rotate(-90)" textLength="44" lengthAdjust="spacingAndGlyphs">5250</text>
<text transform="translate(3512,378) rotate(-90)" textLength="44" lengthAdjust="spacingAndGlyphs">2800</text>
<text transform="translate(3512,527) rotate(-90)" textLength="44" lengthAdjust="spacingAndGlyphs">2450</text>
<text transform="translate(3512,619) rotate(-90)" textLength="33" lengthAdjust="spacingAndGlyphs">800</text>
<text transform="translate(3467,679) rotate(-90)" textLength="44" lengthAdjust="spacingAndGlyphs">2950</text>
<text transform="translate(3512,703) rotate(-90)" textLength="44" lengthAdjust="spacingAndGlyphs">2150</text>
</g>
<g style="font-size:20px">
<text x="3858" y="349" textLength="66" lengthAdjust="spacingAndGlyphs">楼梯上空</text>
<text x="4090" y="340" textLength="66" lengthAdjust="spacingAndGlyphs">楼梯上空</text>
<text x="3858" y="512" textLength="96" lengthAdjust="spacingAndGlyphs">消防电梯机房</text>
<text x="3850" y="539" textLength="80" lengthAdjust="spacingAndGlyphs">无障碍电梯</text>
<text x="3965" y="539" textLength="64" lengthAdjust="spacingAndGlyphs">电梯机房</text>
<text x="3915" y="733" textLength="32" lengthAdjust="spacingAndGlyphs">平台</text>
<text x="4088" y="740" style="font-size:16px">下</text>
</g>
<g style="font-size:18px">
<text x="3850" y="621" textLength="58" lengthAdjust="spacingAndGlyphs">GM1222a</text>
<text x="3986" y="621" textLength="58" lengthAdjust="spacingAndGlyphs">GM1222a</text>
<text transform="translate(3758,509) rotate(90)" textLength="44" lengthAdjust="spacingAndGlyphs">LC0913</text>
<text transform="translate(4087,509) rotate(-90)" textLength="44" lengthAdjust="spacingAndGlyphs">LC0913</text>
</g>
</g>

<!-- title -->
<g class="t" style="font-weight:bold">
<text x="1385" y="2573" style="font-size:90px" textLength="515" lengthAdjust="spacingAndGlyphs">保利麓湖38号楼</text>
<text x="1939" y="2578" style="font-size:90px" textLength="446" lengthAdjust="spacingAndGlyphs">屋面层平面图</text>
<rect x="1857" y="2591" width="540" height="5" fill="#000"/>
<text x="2422" y="2583" style="font-size:62px;font-weight:normal" textLength="131" lengthAdjust="spacingAndGlyphs">1:100</text>
<text x="2576" y="2604" style="font-size:88px;fill:#f00" textLength="222" lengthAdjust="spacingAndGlyphs">原方案</text>
<text x="1944" y="2652" style="font-size:40px;font-weight:normal" textLength="426" lengthAdjust="spacingAndGlyphs">本层建筑面积：62.37m²（计容）</text>
</g>

<!-- elevation table -->
<g class="k">
<rect x="47" y="3026" width="1316" height="263" stroke-width="3"/>
<path d="M47,3088H1363M47,3122H1363M47,3155H1363M47,3224H1363M47,3259H1363"/>
<path d="M47,3189H1363" stroke-width="3"/>
<path d="M115,3088V3289M188,3088V3289M260,3088V3289M335,3088V3289M409,3088V3289M483,3088V3289M555,3088V3289M628,3088V3289M701,3088V3289M775,3088V3289M848,3088V3289M922,3088V3289M995,3088V3289M1068,3088V3289M1143,3088V3289M1215,3088V3289M1290,3088V3289"/>
</g>
<g class="t q" text-anchor="middle">
<text x="677" y="3075" style="font-size:28px" textLength="120" lengthAdjust="spacingAndGlyphs">标高、层高一览表</text>
<text x="81" y="3113" textLength="30" lengthAdjust="spacingAndGlyphs">楼层</text>
<text x="81" y="3146" textLength="30" lengthAdjust="spacingAndGlyphs">标高</text>
<text x="81" y="3180" textLength="30" lengthAdjust="spacingAndGlyphs">层高</text>
<text x="81" y="3214" textLength="30" lengthAdjust="spacingAndGlyphs">楼层</text>
<text x="81" y="3249" textLength="30" lengthAdjust="spacingAndGlyphs">标高</text>
<text x="81" y="3282" textLength="30" lengthAdjust="spacingAndGlyphs">层高</text>
</g>
<g class="t q" text-anchor="middle">
<text x="151" y="3113" textLength="66" lengthAdjust="spacingAndGlyphs">1F（大堂）</text>
<text x="224" y="3113" textLength="20" lengthAdjust="spacingAndGlyphs">2F</text><text x="297" y="3113" textLength="20" lengthAdjust="spacingAndGlyphs">3F</text><text x="372" y="3113" textLength="20" lengthAdjust="spacingAndGlyphs">4F</text><text x="446" y="3113" textLength="20" lengthAdjust="spacingAndGlyphs">5F</text><text x="519" y="3113" textLength="20" lengthAdjust="spacingAndGlyphs">6F</text><text x="591" y="3113" textLength="20" lengthAdjust="spacingAndGlyphs">7F</text><text x="664" y="3113" textLength="20" lengthAdjust="spacingAndGlyphs">8F</text><text x="738" y="3113" textLength="20" lengthAdjust="spacingAndGlyphs">9F</text><text x="811" y="3113" textLength="27" lengthAdjust="spacingAndGlyphs">10F</text><text x="885" y="3113" textLength="27" lengthAdjust="spacingAndGlyphs">11F</text><text x="958" y="3113" textLength="27" lengthAdjust="spacingAndGlyphs">12F</text><text x="1031" y="3113" textLength="27" lengthAdjust="spacingAndGlyphs">13F</text><text x="1105" y="3113" textLength="27" lengthAdjust="spacingAndGlyphs">14F</text><text x="1179" y="3113" textLength="27" lengthAdjust="spacingAndGlyphs">15F</text><text x="1252" y="3113" textLength="27" lengthAdjust="spacingAndGlyphs">16F</text><text x="1326" y="3113" textLength="27" lengthAdjust="spacingAndGlyphs">17F</text>
<text x="151" y="3146" textLength="48" lengthAdjust="spacingAndGlyphs">0.000</text><text x="224" y="3146" textLength="48" lengthAdjust="spacingAndGlyphs">5.800</text><text x="297" y="3146" textLength="48" lengthAdjust="spacingAndGlyphs">8.700</text><text x="372" y="3146" textLength="60" lengthAdjust="spacingAndGlyphs">11.600</text><text x="446" y="3146" textLength="60" lengthAdjust="spacingAndGlyphs">14.500</text><text x="519" y="3146" textLength="60" lengthAdjust="spacingAndGlyphs">17.400</text><text x="591" y="3146" textLength="60" lengthAdjust="spacingAndGlyphs">20.300</text><text x="664" y="3146" textLength="60" lengthAdjust="spacingAndGlyphs">23.200</text><text x="738" y="3146" textLength="60" lengthAdjust="spacingAndGlyphs">26.100</text><text x="811" y="3146" textLength="60" lengthAdjust="spacingAndGlyphs">29.000</text><text x="885" y="3146" textLength="60" lengthAdjust="spacingAndGlyphs">31.900</text><text x="958" y="3146" textLength="60" lengthAdjust="spacingAndGlyphs">34.800</text><text x="1031" y="3146" textLength="60" lengthAdjust="spacingAndGlyphs">37.700</text><text x="1105" y="3146" textLength="60" lengthAdjust="spacingAndGlyphs">40.600</text><text x="1179" y="3146" textLength="60" lengthAdjust="spacingAndGlyphs">43.500</text><text x="1252" y="3146" textLength="60" lengthAdjust="spacingAndGlyphs">46.400</text><text x="1326" y="3146" textLength="60" lengthAdjust="spacingAndGlyphs">49.300</text>
<text x="151" y="3180" textLength="48" lengthAdjust="spacingAndGlyphs">5.800</text><text x="224" y="3180" textLength="48" lengthAdjust="spacingAndGlyphs">2.900</text><text x="297" y="3180" textLength="48" lengthAdjust="spacingAndGlyphs">2.900</text><text x="372" y="3180" textLength="48" lengthAdjust="spacingAndGlyphs">2.900</text><text x="446" y="3180" textLength="48" lengthAdjust="spacingAndGlyphs">2.900</text><text x="519" y="3180" textLength="48" lengthAdjust="spacingAndGlyphs">2.900</text><text x="591" y="3180" textLength="48" lengthAdjust="spacingAndGlyphs">2.900</text><text x="664" y="3180" textLength="48" lengthAdjust="spacingAndGlyphs">2.900</text><text x="738" y="3180" textLength="48" lengthAdjust="spacingAndGlyphs">2.900</text><text x="811" y="3180" textLength="48" lengthAdjust="spacingAndGlyphs">2.900</text><text x="885" y="3180" textLength="48" lengthAdjust="spacingAndGlyphs">2.900</text><text x="958" y="3180" textLength="48" lengthAdjust="spacingAndGlyphs">2.900</text><text x="1031" y="3180" textLength="48" lengthAdjust="spacingAndGlyphs">2.900</text><text x="1105" y="3180" textLength="48" lengthAdjust="spacingAndGlyphs">2.900</text><text x="1179" y="3180" textLength="48" lengthAdjust="spacingAndGlyphs">2.900</text><text x="1252" y="3180" textLength="48" lengthAdjust="spacingAndGlyphs">2.900</text><text x="1326" y="3180" textLength="48" lengthAdjust="spacingAndGlyphs">2.900</text>
<text x="151" y="3214" textLength="27" lengthAdjust="spacingAndGlyphs">18F</text><text x="224" y="3214" textLength="27" lengthAdjust="spacingAndGlyphs">19F</text><text x="297" y="3214" textLength="27" lengthAdjust="spacingAndGlyphs">20F</text><text x="372" y="3214" textLength="27" lengthAdjust="spacingAndGlyphs">21F</text><text x="446" y="3214" textLength="27" lengthAdjust="spacingAndGlyphs">22F</text><text x="519" y="3214" textLength="27" lengthAdjust="spacingAndGlyphs">23F</text><text x="591" y="3214" textLength="27" lengthAdjust="spacingAndGlyphs">24F</text><text x="664" y="3214" textLength="27" lengthAdjust="spacingAndGlyphs">25F</text><text x="738" y="3214" textLength="27" lengthAdjust="spacingAndGlyphs">26F</text><text x="811" y="3214" textLength="27" lengthAdjust="spacingAndGlyphs">27F</text><text x="885" y="3214" textLength="27" lengthAdjust="spacingAndGlyphs">28F</text><text x="958" y="3214" textLength="27" lengthAdjust="spacingAndGlyphs">29F</text><text x="1031" y="3214" textLength="27" lengthAdjust="spacingAndGlyphs">30F</text><text x="1105" y="3214" textLength="27" lengthAdjust="spacingAndGlyphs">31F</text><text x="1179" y="3214" textLength="27" lengthAdjust="spacingAndGlyphs">32F</text><text x="1252" y="3214" textLength="27" lengthAdjust="spacingAndGlyphs">33F</text>
<text x="151" y="3249" textLength="60" lengthAdjust="spacingAndGlyphs">52.200</text><text x="224" y="3249" textLength="60" lengthAdjust="spacingAndGlyphs">55.100</text><text x="297" y="3249" textLength="60" lengthAdjust="spacingAndGlyphs">58.000</text><text x="372" y="3249" textLength="60" lengthAdjust="spacingAndGlyphs">60.900</text><text x="446" y="3249" textLength="60" lengthAdjust="spacingAndGlyphs">63.800</text><text x="519" y="3249" textLength="60" lengthAdjust="spacingAndGlyphs">66.700</text><text x="591" y="3249" textLength="60" lengthAdjust="spacingAndGlyphs">69.600</text><text x="664" y="3249" textLength="60" lengthAdjust="spacingAndGlyphs">72.500</text><text x="738" y="3249" textLength="60" lengthAdjust="spacingAndGlyphs">75.400</text><text x="811" y="3249" textLength="60" lengthAdjust="spacingAndGlyphs">78.300</text><text x="885" y="3249" textLength="60" lengthAdjust="spacingAndGlyphs">81.200</text><text x="958" y="3249" textLength="60" lengthAdjust="spacingAndGlyphs">84.100</text><text x="1031" y="3249" textLength="60" lengthAdjust="spacingAndGlyphs">87.000</text><text x="1105" y="3249" textLength="60" lengthAdjust="spacingAndGlyphs">89.900</text><text x="1179" y="3249" textLength="60" lengthAdjust="spacingAndGlyphs">92.800</text><text x="1252" y="3249" textLength="60" lengthAdjust="spacingAndGlyphs">95.700</text>
<text x="151" y="3282" textLength="48" lengthAdjust="spacingAndGlyphs">2.900</text><text x="224" y="3282" textLength="48" lengthAdjust="spacingAndGlyphs">2.900</text><text x="297" y="3282" textLength="48" lengthAdjust="spacingAndGlyphs">2.900</text><text x="372" y="3282" textLength="48" lengthAdjust="spacingAndGlyphs">2.900</text><text x="446" y="3282" textLength="48" lengthAdjust="spacingAndGlyphs">2.900</text><text x="519" y="3282" textLength="48" lengthAdjust="spacingAndGlyphs">2.900</text><text x="591" y="3282" textLength="48" lengthAdjust="spacingAndGlyphs">2.900</text><text x="664" y="3282" textLength="48" lengthAdjust="spacingAndGlyphs">2.900</text><text x="738" y="3282" textLength="48" lengthAdjust="spacingAndGlyphs">2.900</text><text x="811" y="3282" textLength="48" lengthAdjust="spacingAndGlyphs">2.900</text><text x="885" y="3282" textLength="48" lengthAdjust="spacingAndGlyphs">2.900</text><text x="958" y="3282" textLength="48" lengthAdjust="spacingAndGlyphs">2.900</text><text x="1031" y="3282" textLength="48" lengthAdjust="spacingAndGlyphs">2.900</text><text x="1105" y="3282" textLength="48" lengthAdjust="spacingAndGlyphs">2.900</text><text x="1179" y="3282" textLength="48" lengthAdjust="spacingAndGlyphs">2.900</text><text x="1252" y="3282" textLength="48" lengthAdjust="spacingAndGlyphs">2.900</text>
</g>

<!-- title block -->
<g class="c">
<rect x="3722" y="2837" width="908" height="228"/>
<path d="M4178,2837V3065"/>
<path d="M3268,3065H4632" stroke-width="5"/>
<path d="M3268,3065V3290M3892,3065V3290M3978,3065V3290M4291,3065V3290M4377,3065V3290M3892,3122H4291M3268,3179H4632M3268,3237H4632M3318,3179V3290M3375,3179V3290M3479,3179V3290M3537,3179V3290M3594,3179V3290M3690,3179V3290M3732,3179V3290M3789,3179V3290M4470,3179V3290M4556,3179V3290"/>
</g>
<path d="M48,3290H4630" stroke="#000" stroke-width="4"/>
<g class="t cy">
<text x="3730" y="2866" style="font-size:17px;font-weight:bold" textLength="38" lengthAdjust="spacingAndGlyphs">注册师章</text>
<text x="4187" y="2866" style="font-size:17px;font-weight:bold" textLength="28" lengthAdjust="spacingAndGlyphs">出图章</text>
<text x="3282" y="3132" style="font-size:36px" textLength="590" lengthAdjust="spacingAndGlyphs">佛 山 市 顺 德 建 筑 设 计 院 有 限 公 司</text>
<text x="3282" y="3159" style="font-size:15px;font-family:'Liberation Serif',serif" textLength="600" lengthAdjust="spacingAndGlyphs">SHUNDE ARCHITECTURAL DESIGN INSTITUTE CO.LTD. FOSHAN</text>
</g>
<g class="t cy" text-anchor="middle" style="font-size:18px">
<text x="3935" y="3100" textLength="52" lengthAdjust="spacingAndGlyphs">建设单位</text>
<text x="3935" y="3158" textLength="52" lengthAdjust="spacingAndGlyphs">项目名称</text>
<text x="4334" y="3110" textLength="52" lengthAdjust="spacingAndGlyphs">审　查</text>
<text x="4334" y="3160" textLength="52" lengthAdjust="spacingAndGlyphs">批 准 号</text>
<text x="3293" y="3204">审</text><text x="3293" y="3228">定</text>
<text x="3346" y="3214" textLength="36" lengthAdjust="spacingAndGlyphs">陈翠峰</text>
<text x="3508" y="3204">项目</text><text x="3508" y="3228">负责</text>
<text x="3565" y="3214" textLength="36" lengthAdjust="spacingAndGlyphs">林文津</text>
<text x="3711" y="3204">校</text><text x="3711" y="3228">对</text>
<text x="3760" y="3214" textLength="36" lengthAdjust="spacingAndGlyphs">郑小峰</text>
<text x="3935" y="3214" textLength="52" lengthAdjust="spacingAndGlyphs">子项名称</text>
<text x="4334" y="3214" textLength="52" lengthAdjust="spacingAndGlyphs">工 程 号</text>
<text x="4513" y="3214" textLength="52" lengthAdjust="spacingAndGlyphs">设计阶段</text>
<text x="3293" y="3260">审</text><text x="3293" y="3284">核</text>
<text x="3346" y="3270" textLength="36" lengthAdjust="spacingAndGlyphs">林文津</text>
<text x="3508" y="3260">专业</text><text x="3508" y="3284">负责</text>
<text x="3565" y="3270" textLength="36" lengthAdjust="spacingAndGlyphs">林文津</text>
<text x="3711" y="3260">设</text><text x="3711" y="3284">计</text>
<text x="3760" y="3270" textLength="36" lengthAdjust="spacingAndGlyphs">何玉梓</text>
<text x="3935" y="3270" textLength="52" lengthAdjust="spacingAndGlyphs">图　名</text>
<text x="4334" y="3270" textLength="52" lengthAdjust="spacingAndGlyphs">图　号</text>
<text x="4513" y="3270" textLength="52" lengthAdjust="spacingAndGlyphs">日　期</text>
</g>
<g class="t" text-anchor="middle">
<text x="4135" y="3111" style="font-size:26px" textLength="220" lengthAdjust="spacingAndGlyphs">清远鑫恒房地产有限公司</text>
<text x="4135" y="3165" style="font-size:28px" textLength="80" lengthAdjust="spacingAndGlyphs">保利麓湖</text>
<text x="4135" y="3222" style="font-size:36px" textLength="50" lengthAdjust="spacingAndGlyphs">38#</text>
<text x="4423" y="3215" style="font-size:20px" textLength="80" lengthAdjust="spacingAndGlyphs">180403- 7</text>
<text x="4594" y="3220" style="font-size:30px" textLength="48" lengthAdjust="spacingAndGlyphs">初设</text>
<text x="4135" y="3271" style="font-size:20px" textLength="80" lengthAdjust="spacingAndGlyphs">屋面平面图</text>
<text x="4423" y="3271" style="font-size:20px" textLength="76" lengthAdjust="spacingAndGlyphs">建初　04</text>
<text x="4594" y="3271" style="font-size:20px" textLength="62" lengthAdjust="spacingAndGlyphs">2018.04</text>
</g>
</svg>
</body></html>
